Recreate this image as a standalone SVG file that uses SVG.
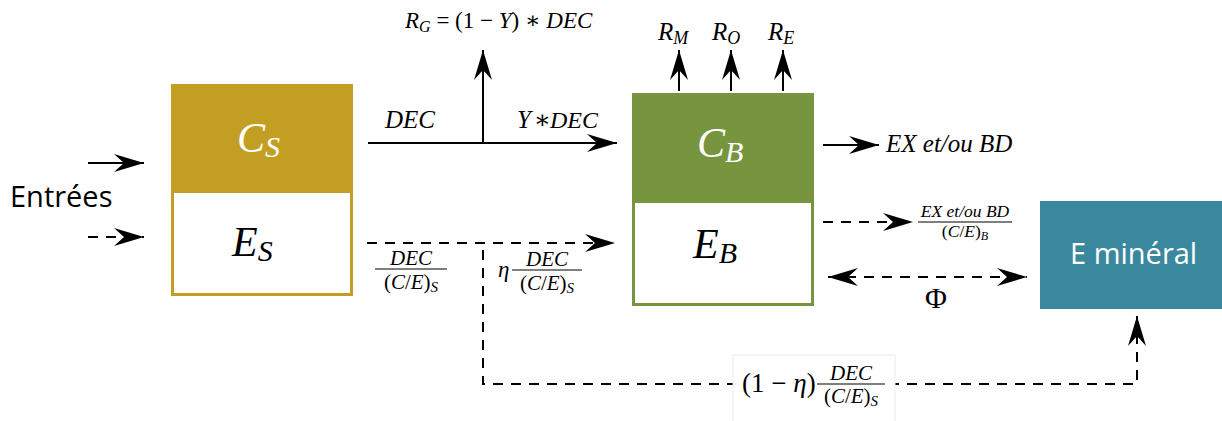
<svg xmlns="http://www.w3.org/2000/svg" width="1222" height="421" viewBox="0 0 1222 421">
<style>
.m{font-family:"Liberation Serif","DejaVu Serif",serif;font-style:italic;fill:#000}
.u{font-style:normal}
.s{font-family:"Open Sans","Noto Sans",sans-serif}
.ln{stroke:#000;stroke-width:2;fill:none}
.d{stroke-dasharray:10 8}
.w{fill:#fff}
</style>
<defs>
<marker id="ah" markerUnits="userSpaceOnUse" markerWidth="34" markerHeight="20" viewBox="-31 -10 33 20" refX="0" refY="0" orient="auto-start-reverse">
<path d="M0,0 L-30,-9 L-20,0 L-30,9 Z" fill="#000"/>
</marker>
</defs>
<rect width="1222" height="421" fill="#fff"/>

<g id="CS">
<rect x="171" y="84" width="182" height="109" fill="#c29f22"/>
<text class="m w" x="237" y="152" font-size="42" fill="#fff">C<tspan font-size="30" dy="5">S</tspan></text>
</g>
<g id="ES">
<rect x="172.5" y="191.5" width="179" height="103" fill="#fff" stroke="#c29f22" stroke-width="3"/>
<text class="m" x="232" y="256" font-size="42">E<tspan font-size="30" dy="5">S</tspan></text>
</g>
<g id="CB">
<rect x="632" y="93" width="182" height="110" fill="#77943e"/>
<text class="m" x="697" y="157" font-size="42" style="fill:#fff">C<tspan font-size="30" dy="5">B</tspan></text>
</g>
<g id="EB">
<rect x="633.5" y="201.5" width="179" height="103" fill="#fff" stroke="#77943e" stroke-width="3"/>
<text class="m" x="693" y="258" font-size="42">E<tspan font-size="30" dy="5">B</tspan></text>
</g>
<g id="Emin">
<rect x="1040" y="201" width="182" height="108" fill="#3a889e"/>
<text class="s" x="1070" y="264" font-size="29" fill="#fff">E minéral</text>
</g>
<g id="entrees">
<text class="s" x="10" y="207" font-size="29" fill="#000">Entrées</text>
</g>

<g id="connectors">
<line class="ln" x1="88" y1="163" x2="144" y2="163" marker-end="url(#ah)"/>
<line class="ln d" x1="88" y1="237" x2="144" y2="237" marker-end="url(#ah)"/>
<line class="ln" x1="368" y1="143" x2="617" y2="143" marker-end="url(#ah)"/>
<line class="ln" x1="483" y1="143" x2="483" y2="50" marker-end="url(#ah)"/>
<line class="ln" x1="679" y1="91" x2="679" y2="50" marker-end="url(#ah)"/>
<line class="ln" x1="731" y1="91" x2="731" y2="50" marker-end="url(#ah)"/>
<line class="ln" x1="783" y1="91" x2="783" y2="50" marker-end="url(#ah)"/>
<line class="ln" x1="823" y1="145" x2="879" y2="145" marker-end="url(#ah)"/>
<line class="ln d" x1="367" y1="243" x2="615" y2="243" marker-end="url(#ah)"/>
<line class="ln d" x1="823" y1="222" x2="913" y2="222" marker-end="url(#ah)"/>
<line class="ln d" x1="828" y1="277" x2="1027" y2="277" marker-start="url(#ah)" marker-end="url(#ah)"/>
<path class="ln d" d="M483,250 L483,384 L1137,384 L1137,316" marker-end="url(#ah)"/>
</g>

<g id="labels">
<text class="m" x="405" y="28" font-size="23">R<tspan font-size="16" dy="4">G</tspan><tspan class="u" dy="-4"> = (1 − </tspan>Y<tspan class="u">) ∗ </tspan>DEC</text>
<text class="m" x="385" y="128" font-size="25">DEC</text>
<text class="m" x="517" y="128" font-size="25">Y</text>
<text class="m u" x="534" y="128" font-size="25">∗</text>
<text class="m" x="550" y="128" font-size="24">DEC</text>
<text class="m" x="658" y="40" font-size="25">R<tspan font-size="18" dy="4">M</tspan></text>
<text class="m" x="712" y="40" font-size="25">R<tspan font-size="18" dy="4">O</tspan></text>
<text class="m" x="768" y="40" font-size="25">R<tspan font-size="18" dy="4">E</tspan></text>
<text class="m" x="886" y="152" font-size="25">EX et/ou BD</text>

<text class="m" x="411" y="265" font-size="21" text-anchor="middle">DEC</text>
<line x1="375" y1="269" x2="447" y2="269" stroke="#000" stroke-width="1.2"/>
<text class="m" x="411" y="289" font-size="21" text-anchor="middle"><tspan class="u">(</tspan>C<tspan class="u">/</tspan>E<tspan class="u">)</tspan><tspan font-size="15" dy="3">S</tspan></text>

<text class="m" x="498" y="277" font-size="23">η</text>
<text class="m" x="547" y="266" font-size="21" text-anchor="middle">DEC</text>
<line x1="512" y1="270" x2="582" y2="270" stroke="#000" stroke-width="1.2"/>
<text class="m" x="547" y="290" font-size="21" text-anchor="middle"><tspan class="u">(</tspan>C<tspan class="u">/</tspan>E<tspan class="u">)</tspan><tspan font-size="15" dy="3">S</tspan></text>

<text class="m" x="965" y="217" font-size="17.5" text-anchor="middle">EX  et/ou  BD</text>
<line x1="918" y1="222" x2="1012" y2="222" stroke="#000" stroke-width="1.2"/>
<text class="m" x="965" y="237" font-size="17.5" text-anchor="middle"><tspan class="u">(</tspan>C<tspan class="u">/</tspan>E<tspan class="u">)</tspan><tspan font-size="12" dy="3">B</tspan></text>

<text class="m u" x="936" y="308" font-size="30" text-anchor="middle">Φ</text>

<rect x="733" y="355" width="162" height="70" fill="#fff" stroke="#ececec" stroke-width="1"/>
<text class="m" x="742" y="392" font-size="27"><tspan class="u">(1 − </tspan>η<tspan class="u">)</tspan></text>
<text class="m" x="851" y="380" font-size="21" text-anchor="middle">DEC</text>
<line x1="817" y1="384" x2="885" y2="384" stroke="#000" stroke-width="1.2"/>
<text class="m" x="851" y="403" font-size="21" text-anchor="middle"><tspan class="u">(</tspan>C<tspan class="u">/</tspan>E<tspan class="u">)</tspan><tspan font-size="15" dy="3">S</tspan></text>
</g>
</svg>
